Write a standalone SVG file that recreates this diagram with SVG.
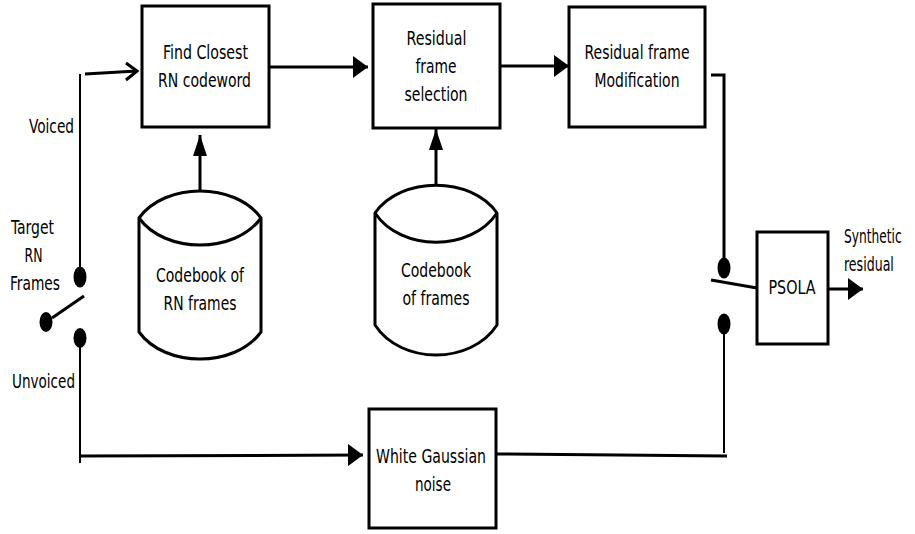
<svg xmlns="http://www.w3.org/2000/svg" width="915" height="534" viewBox="0 0 915 534">
<style>
  .box { fill: #fff; stroke: #000; stroke-width: 3; }
  .cyl { fill: #fff; stroke: #000; stroke-width: 3; stroke-linejoin: round; }
  .ln { fill: none; stroke: #000; stroke-width: 3; }
  .thin { fill: none; stroke: #000; stroke-width: 2; }
  .dot { fill: #000; }
  text { font-family: "DejaVu Sans Condensed", "DejaVu Sans", sans-serif; font-stretch: condensed; font-size: 20px; fill: #000; }
  .c { text-anchor: middle; }
</style>
<defs>
  <marker id="arrH" markerUnits="userSpaceOnUse" markerWidth="15" markerHeight="22" refX="15" refY="11" orient="auto">
    <path d="M0,0 L15,11 L0,22 z" fill="#000"/>
  </marker>
  <marker id="arrV" markerUnits="userSpaceOnUse" markerWidth="21" markerHeight="14" refX="21" refY="7" orient="auto">
    <path d="M0,0 L21,7 L0,14 z" fill="#000"/>
  </marker>
</defs>

<g id="connectors">
  <line class="thin" x1="80" y1="74" x2="80" y2="268"/>
  <line class="ln" x1="85" y1="74" x2="137" y2="71"/>
  <polyline class="ln" points="126,63 137,71 126,80"/>
  <line class="ln" x1="52" y1="318" x2="84" y2="296"/>
  <line class="thin" x1="80" y1="340" x2="80" y2="463"/>
  <line class="ln" x1="80" y1="456" x2="363" y2="455" marker-end="url(#arrH)"/>
  <line class="ln" x1="270" y1="67" x2="368" y2="67" marker-end="url(#arrH)"/>
  <line class="ln" x1="501" y1="66" x2="569" y2="66" marker-end="url(#arrH)"/>
  <polyline class="ln" points="711,75 724,75 724,262"/>
  <line class="ln" x1="200" y1="190" x2="200" y2="135" marker-end="url(#arrV)"/>
  <line class="ln" x1="436" y1="185" x2="436" y2="129" marker-end="url(#arrV)"/>
  <line class="ln" x1="711" y1="280" x2="757" y2="288"/>
  <line class="thin" x1="724" y1="330" x2="724" y2="453"/>
  <line class="ln" x1="496" y1="454" x2="727" y2="456"/>
  <line class="ln" x1="829" y1="289" x2="863" y2="289" marker-end="url(#arrH)"/>
  <ellipse class="dot" cx="80" cy="277" rx="6.5" ry="10.5"/>
  <ellipse class="dot" cx="46" cy="322" rx="6.5" ry="10"/>
  <ellipse class="dot" cx="80" cy="338" rx="6.5" ry="10"/>
  <ellipse class="dot" cx="724" cy="268" rx="6.5" ry="10.5"/>
  <ellipse class="dot" cx="724" cy="324" rx="6.5" ry="10.5"/>
</g>

<g id="switch-labels">
  <text x="51.5" y="133" class="c" textLength="45" lengthAdjust="spacingAndGlyphs">Voiced</text>
  <text x="32.5" y="233.5" class="c" textLength="43" lengthAdjust="spacingAndGlyphs">Target</text>
  <text x="33.5" y="261.5" class="c" textLength="18" lengthAdjust="spacingAndGlyphs">RN</text>
  <text x="35" y="289.5" class="c" textLength="50" lengthAdjust="spacingAndGlyphs">Frames</text>
  <text x="43.5" y="388" class="c" textLength="63" lengthAdjust="spacingAndGlyphs">Unvoiced</text>
</g>

<g id="find-closest">
  <rect class="box" x="142" y="6" width="127" height="121"/>
  <text x="205.5" y="58.5" class="c" textLength="85" lengthAdjust="spacingAndGlyphs">Find Closest</text>
  <text x="204.5" y="87" class="c" textLength="93" lengthAdjust="spacingAndGlyphs">RN codeword</text>
</g>

<g id="residual-selection">
  <rect class="box" x="373" y="4" width="127" height="124"/>
  <text x="436.5" y="45" class="c" textLength="60" lengthAdjust="spacingAndGlyphs">Residual</text>
  <text x="436" y="73" class="c" textLength="41" lengthAdjust="spacingAndGlyphs">frame</text>
  <text x="436" y="101" class="c" textLength="63" lengthAdjust="spacingAndGlyphs">selection</text>
</g>

<g id="residual-modification">
  <rect class="box" x="569" y="7" width="136" height="120"/>
  <text x="637" y="59" class="c" textLength="105" lengthAdjust="spacingAndGlyphs">Residual frame</text>
  <text x="637" y="87" class="c" textLength="85" lengthAdjust="spacingAndGlyphs">Modification</text>
</g>

<g id="codebook-rn">
  <path class="cyl" d="M139,218 C165,182 235,182 261,218 L261,332 C235,368 165,368 139,332 Z"/>
  <path class="cyl" d="M139,218 C165,254 235,254 261,218"/>
  <text x="200" y="281.5" class="c" textLength="88" lengthAdjust="spacingAndGlyphs">Codebook of</text>
  <text x="200" y="309.5" class="c" textLength="73" lengthAdjust="spacingAndGlyphs">RN frames</text>
</g>

<g id="codebook-frames">
  <path class="cyl" d="M375,213 C401,176 471,176 497,213 L497,325 C471,365 401,365 375,325 Z"/>
  <path class="cyl" d="M375,213 C401,252 471,252 497,213"/>
  <text x="436" y="277" class="c" textLength="70" lengthAdjust="spacingAndGlyphs">Codebook</text>
  <text x="436" y="305" class="c" textLength="67" lengthAdjust="spacingAndGlyphs">of frames</text>
</g>

<g id="psola">
  <rect class="box" x="757" y="232" width="71" height="112"/>
  <text x="792" y="294" class="c" textLength="47" lengthAdjust="spacingAndGlyphs">PSOLA</text>
</g>

<g id="output-label">
  <text transform="translate(844,243) scale(0.68,1)">Synthetic</text>
  <text transform="translate(844,271) scale(0.7,1)">residual</text>
</g>

<g id="white-noise">
  <rect class="box" x="369" y="409" width="127" height="119"/>
  <text x="431" y="463" class="c" textLength="110" lengthAdjust="spacingAndGlyphs">White Gaussian</text>
  <text x="433" y="491" class="c" textLength="36" lengthAdjust="spacingAndGlyphs">noise</text>
</g>
</svg>
